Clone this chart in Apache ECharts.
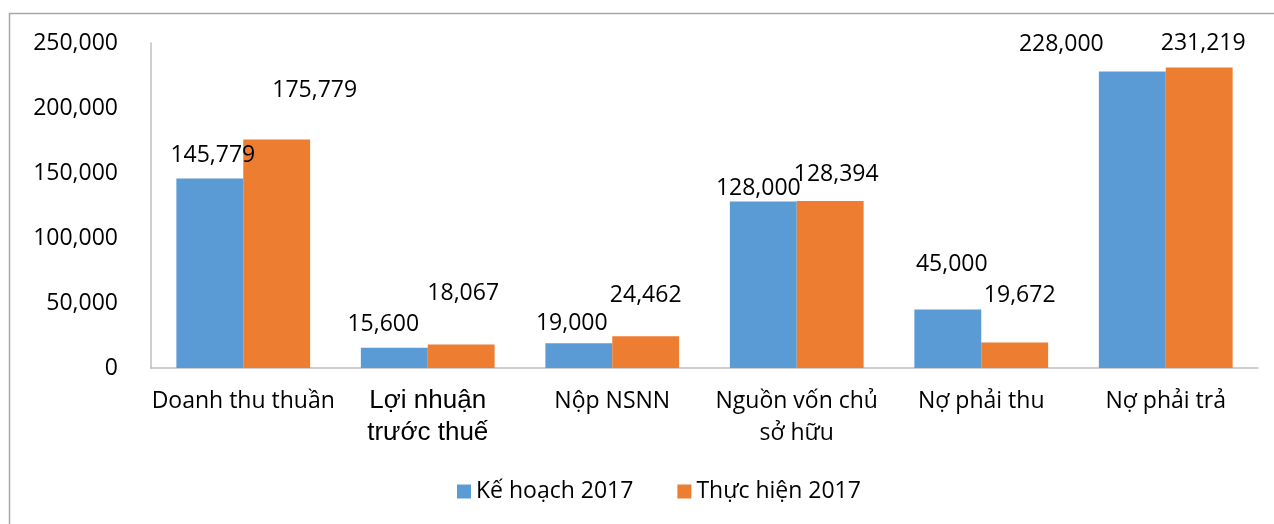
<!DOCTYPE html>
<html>
<head>
<meta charset="utf-8">
<style>
  html, body { margin: 0; padding: 0; background: #fff; }
  #chart { width: 1274px; height: 524px; }
</style>
<script src="https://cdn.jsdelivr.net/npm/echarts@6/dist/echarts.min.js"></script>
</head>
<body>
<div id="chart"></div>
<script>
// dữ liệu
var categories = ['Doanh thu thuần', 'Lợi nhuận trước thuế', 'Nộp NSNN', 'Nguồn vốn chủ sở hữu', 'Nợ phải thu', 'Nợ phải trả'];
var keHoach = [145779, 15600, 19000, 128000, 45000, 228000];
var thucHien = [175779, 18067, 24462, 128394, 19672, 231219];
var yTicks = [0, 50000, 100000, 150000, 200000, 250000];

// vị trí nhãn được kéo tay như bản gốc (dx, dy)
var blueShift = [[3, 0], [-11, 0], [-7, 4], [-5, 10], [4, -22], [-71, -4]];
var orangeShift = [[38, -26], [2, -28], [0, -17], [6, -3], [5, -23], [4, 0]];

(function () {
  var myChart = echarts.init(document.getElementById('chart'));
  var fmt = function (v) { return v.toLocaleString('en-US'); };

  function build(values, shift) {
    return values.map(function (v, i) {
      return { value: v, label: { offset: shift[i] } };
    });
  }

  var option = {
    animation: false,
    color: ['#5B9BD5', '#ED7D31'],
    textStyle: { fontFamily: 'Open Sans' },
    graphic: [{
      type: 'rect',
      shape: { x: 9.5, y: 13.5, width: 1300, height: 560 },
      style: { fill: 'none', stroke: '#a6a6a6', lineWidth: 1.5 }
    }],
    grid: { left: 151, right: 16, top: 43, bottom: 156 },
    legend: {
      bottom: 16,
      left: 452,
      itemWidth: 14,
      itemHeight: 14,
      itemGap: 44,
      icon: 'rect',
      textStyle: { fontSize: 23, color: '#000', fontFamily: 'Open Sans' }
    },
    xAxis: {
      type: 'category',
      data: categories,
      axisTick: { show: false },
      axisLine: { lineStyle: { color: '#bfbfbf', width: 1.5 } },
      axisLabel: {
        interval: 0,
        margin: 17,
        color: '#000',
        fontSize: 23,
        lineHeight: 32,
        formatter: function (v) {
          if (v === 'Lợi nhuận trước thuế') return '{a|Lợi nhuận}\n{a|trước thuế}';
          if (v === 'Nguồn vốn chủ sở hữu') return 'Nguồn vốn chủ\nsở hữu';
          return v;
        },
        rich: {
          a: { fontFamily: 'Liberation Sans', fontSize: 26, lineHeight: 32, color: '#000' }
        }
      }
    },
    yAxis: {
      type: 'value',
      min: 0,
      max: yTicks[yTicks.length - 1],
      interval: yTicks[1] - yTicks[0],
      splitLine: { show: false },
      axisLine: { show: true, lineStyle: { color: '#bfbfbf', width: 1.5 } },
      axisTick: { show: false },
      axisLabel: {
        margin: 33,
        color: '#000',
        fontSize: 23,
        formatter: fmt
      }
    },
    series: [
      {
        name: 'Kế hoạch 2017',
        type: 'bar',
        barGap: '0%',
        barCategoryGap: '27.5%',
        data: build(keHoach, blueShift),
        label: {
          show: true,
          position: 'top',
          distance: 12,
          color: '#000',
          fontSize: 23,
          formatter: function (p) { return fmt(p.value); }
        }
      },
      {
        name: 'Thực hiện 2017',
        type: 'bar',
        data: build(thucHien, orangeShift),
        label: {
          show: true,
          position: 'top',
          distance: 12,
          color: '#000',
          fontSize: 23,
          formatter: function (p) { return fmt(p.value); }
        }
      }
    ]
  };

  myChart.setOption(option);
  window.addEventListener('resize', function () { myChart.resize(); });
})();
</script>
</body>
</html>
